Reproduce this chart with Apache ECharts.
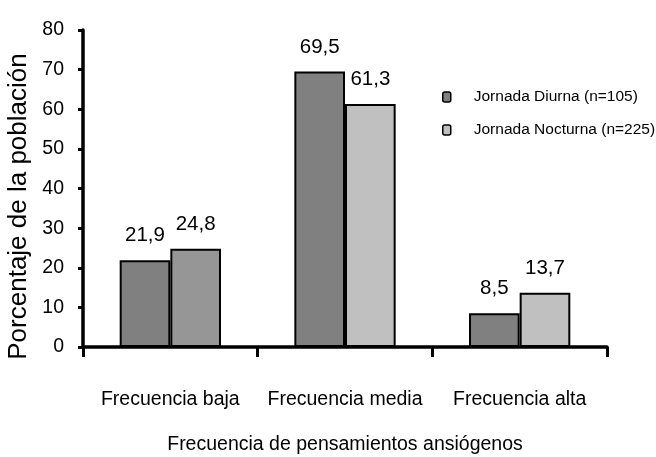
<!DOCTYPE html>
<html><head><meta charset="utf-8">
<script src="https://cdn.jsdelivr.net/npm/echarts@6/dist/echarts.min.js"></script>
<style>html,body{margin:0;padding:0;background:#fff}#c{width:656px;height:457px}</style>
</head><body><div id="c"></div>
<script>
var categories = ['Frecuencia baja', 'Frecuencia media', 'Frecuencia alta'];
var diurna = [21.9, 69.5, 8.5];
var nocturna = [24.8, 61.3, 13.7];
var seriesNames = ['Jornada Diurna (n=105)', 'Jornada Nocturna (n=225)'];
var yTicks = [0, 10, 20, 30, 40, 50, 60, 70, 80];

var narrow = '"Liberation Sans Narrow", "Arial Narrow", "Liberation Sans", Arial, sans-serif';
var chart = echarts.init(document.getElementById('c'));
function fmt(p){ return String(p.value).replace('.', ','); }
var lbl = {show:true, position:'top', distance:14, formatter:fmt, color:'#000', fontFamily:narrow, fontSize:20.5};
chart.setOption({
  animation:false,
  grid:{left:83, right:49, top:30, bottom:110, outerBoundsMode:'none', containLabel:false},
  legend:{
    orient:'vertical', left:437, top:84, itemWidth:8, itemHeight:10, itemGap:17,
    textStyle:{fontFamily:narrow, fontSize:15.5, color:'#000', padding:[0,0,0,18]},
    data:[{name:seriesNames[0], itemStyle:{color:'#808080', borderColor:'#000', borderWidth:1.5}},
          {name:seriesNames[1], itemStyle:{color:'#c0c0c0', borderColor:'#000', borderWidth:1.5}}]
  },
  xAxis:{
    type:'category', data:categories,
    name:'Frecuencia de pensamientos ansiógenos', nameLocation:'middle', nameGap:88,
    nameTextStyle:{fontFamily:narrow, fontSize:19.5, color:'#000'},
    axisLine:{lineStyle:{color:'#000', width:3.5}},
    axisTick:{show:true, length:10, lineStyle:{width:3, color:'#000'}},
    axisLabel:{interval:0, fontFamily:narrow, fontSize:19.5, color:'#000', margin:43}
  },
  yAxis:{
    type:'value', min:yTicks[0], max:yTicks[yTicks.length-1], interval:10,
    name:'Porcentaje de la población', nameLocation:'middle', nameGap:42,
    nameTextStyle:{fontFamily:'"Liberation Sans", Arial, sans-serif', fontSize:26, color:'#000', padding:[0,36,0,0]},
    axisLine:{show:true, lineStyle:{color:'#000', width:3.5}},
    axisTick:{show:true, length:5, lineStyle:{width:3, color:'#000'}},
    axisLabel:{fontFamily:narrow, fontSize:19.5, color:'#000', margin:19},
    splitLine:{show:false}
  },
  series:[
    {name:seriesNames[0], type:'bar', data:diurna, barGap:'0%', barCategoryGap:'42%',
     itemStyle:{color:'#808080', borderColor:'#000', borderWidth:2}, label:lbl},
    {name:seriesNames[1], type:'bar',
     data:nocturna.map(function(v,i){ return i===0 ? {value:v, itemStyle:{color:'#969696'}} : v; }),
     barGap:'0%', barCategoryGap:'42%',
     itemStyle:{color:'#c0c0c0', borderColor:'#000', borderWidth:2}, label:lbl}
  ]
});
</script></body></html>
